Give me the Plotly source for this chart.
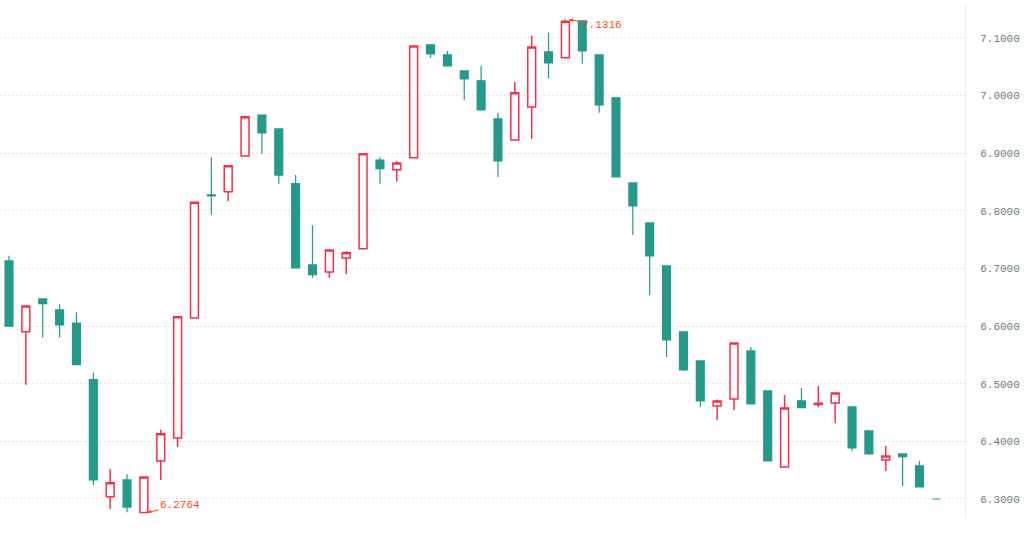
import plotly.graph_objects as go

idx = list(range(56))
open_ = [6.713, 6.590, 6.647, 6.628, 6.605, 6.507, 6.304, 6.333, 6.2764, 6.366,
         6.406, 6.614, 6.8276, 6.833, 6.895, 6.966, 6.942, 6.847, 6.706, 6.694,
         6.718, 6.734, 6.888, 6.871, 6.892, 7.088, 7.0705, 7.0427, 7.0254, 6.9594,
         6.923, 6.980, 7.0757, 7.0653, 7.1295, 7.0705, 6.9959, 6.8484, 6.779, 6.7043,
         6.5898, 6.5395, 6.4614, 6.4735, 6.5568, 6.4874, 6.3555, 6.4701, 6.4640, 6.4666,
         6.4597, 6.418, 6.3677, 6.3781, 6.3573, 6.300]
high = [6.722, 6.635, 6.648, 6.638, 6.624, 6.519, 6.352, 6.343, 6.338, 6.420,
        6.616, 6.815, 6.893, 6.878, 6.963, 6.966, 6.942, 6.862, 6.775, 6.732,
        6.730, 6.899, 6.893, 6.886, 7.086, 7.088, 7.0774, 7.0427, 7.051, 6.970,
        7.0236, 7.1035, 7.1087, 7.1316, 7.1295, 7.0705, 6.9959, 6.8484, 6.779, 6.7043,
        6.5898, 6.5395, 6.4724, 6.5707, 6.5638, 6.4874, 6.4805, 6.4926, 6.4961, 6.4839,
        6.4597, 6.418, 6.392, 6.3781, 6.3665, 6.300]
low = [6.600, 6.498, 6.580, 6.580, 6.533, 6.324, 6.283, 6.277, 6.2764, 6.333,
       6.390, 6.614, 6.793, 6.817, 6.895, 6.899, 6.847, 6.701, 6.684, 6.684,
       6.690, 6.734, 6.847, 6.851, 6.892, 7.065, 7.0514, 6.9924, 6.975, 6.8588,
       6.923, 6.925, 7.0289, 7.0653, 7.0549, 6.970, 6.8588, 6.7581, 6.654, 6.5464,
       6.522, 6.4597, 6.4371, 6.4544, 6.4649, 6.3659, 6.3555, 6.4584, 6.4597, 6.4319,
       6.3833, 6.3781, 6.3486, 6.3226, 6.3208, 6.300]
close = [6.600, 6.635, 6.639, 6.602, 6.533, 6.333, 6.328, 6.286, 6.338, 6.413,
         6.616, 6.815, 6.826, 6.878, 6.963, 6.935, 6.862, 6.701, 6.689, 6.732,
         6.727, 6.899, 6.873, 6.883, 7.086, 7.072, 7.0514, 7.0289, 6.975, 6.8866,
         7.0046, 7.084, 7.0566, 7.129, 7.0774, 6.9837, 6.8588, 6.8085, 6.7217, 6.5759,
         6.5239, 6.4701, 6.4701, 6.5707, 6.4649, 6.3659, 6.4579, 6.4584, 6.4660, 6.4839,
         6.3885, 6.3781, 6.3746, 6.3734, 6.3208, 6.300]
y_ticks = [6.3, 6.4, 6.5, 6.6, 6.7, 6.8, 6.9, 7.0, 7.1]

RED = "#f5304c"
TEAL = "#25998a"
MARK = "#ff4a14"

fig = go.Figure(go.Candlestick(
    x=idx, open=open_, high=high, low=low, close=close,
    increasing=dict(line=dict(color=RED, width=1.5), fillcolor="#ffffff"),
    decreasing=dict(line=dict(color=TEAL, width=1.2), fillcolor=TEAL),
    whiskerwidth=0,
    showlegend=False,
))

imax = max(idx, key=lambda i: high[i])
imin = min(idx, key=lambda i: low[i])
for i, v, ay in [(imax, high[imax], 5), (imin, low[imin], -8)]:
    fig.add_annotation(
        x=i + 0.2, y=v, text=f"{v:.4f}", showarrow=True,
        ax=33, ay=ay, arrowhead=2, arrowsize=0.8, arrowwidth=1,
        arrowcolor=MARK, font=dict(family="Liberation Mono", size=11, color=MARK),
    )

fig.update_layout(
    width=1024, height=541,
    margin=dict(l=0, r=59, t=5, b=23),
    paper_bgcolor="white", plot_bgcolor="white",
    boxgap=0.33,
    xaxis=dict(range=[-0.534, 56.7], visible=False, rangeslider=dict(visible=False),
               showgrid=False, zeroline=False),
    yaxis=dict(side="right", range=[6.267, 7.157], tickvals=y_ticks,
               ticktext=[f"{v:.4f}" for v in y_ticks],
               showgrid=True, gridcolor="#c9dede", griddash="1px,3px", gridwidth=1,
               showline=True, linecolor="#e3eded", linewidth=1,
               zeroline=False, ticks="", ticklabelstandoff=12,
               tickfont=dict(family="Liberation Mono", size=11, color="#6e7b7b")),
)

fig.write_html("out.html", config={"displayModeBar": False},
               post_script="document.body.style.margin='0';document.body.style.overflow='hidden';")
